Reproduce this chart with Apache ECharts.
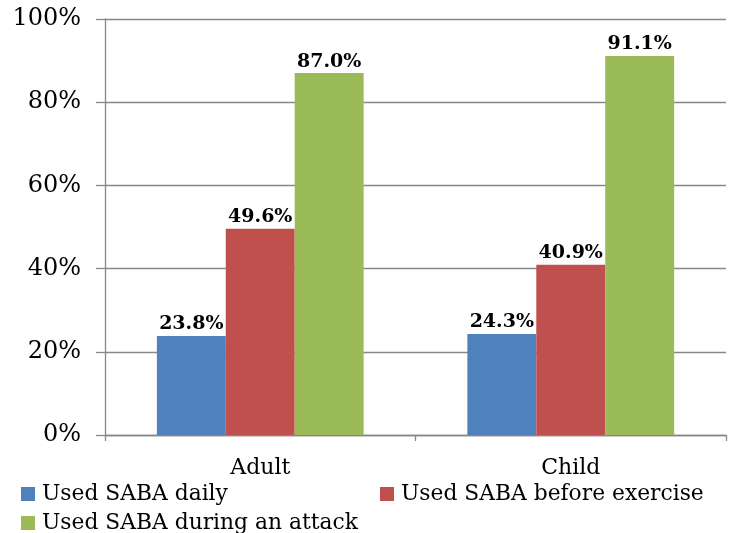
<!DOCTYPE html>
<html><head><meta charset="utf-8">
<script src="https://cdn.jsdelivr.net/npm/echarts@6/dist/echarts.min.js"></script>
<style>html,body{margin:0;padding:0;background:#fff}#c{width:732px;height:533px}</style>
</head><body><div id="c"></div>
<script>
const categories = ['Adult', 'Child'];
const seriesNames = ['Used SABA daily', 'Used SABA before exercise', 'Used SABA during an attack'];
const dailyValues = [23.8, 24.3];
const beforeExerciseValues = [49.6, 40.9];
const attackValues = [87.0, 91.1];
const yTicks = [0, 20, 40, 60, 80, 100];

const colors = ['#4F81BD', '#C0504D', '#9BBB59'];
const FONT = 'DejaVu Serif';
const allValues = [dailyValues, beforeExerciseValues, attackValues];

const chart = echarts.init(document.getElementById('c'), null, {renderer: 'canvas'});
const legendPos = [{left: 21, top: 483}, {left: 380, top: 483}, {left: 21, top: 512}];
chart.setOption({
  animation: false,
  grid: {left: 105, right: 6, top: 19, bottom: 98, containLabel: false},
  legend: seriesNames.map((n, i) => ({
    data: [n], left: legendPos[i].left, top: legendPos[i].top, icon: 'rect',
    itemWidth: 14, itemHeight: 14, itemGap: 0, padding: 0,
    textStyle: {fontFamily: FONT, fontSize: 21.8, color: '#000', padding: [0, 0, 0, 2]}
  })),
  xAxis: {
    type: 'category', data: categories,
    axisLine: {lineStyle: {color: '#888', width: 1.3}},
    axisTick: {show: true, length: 6, lineStyle: {color: '#888', width: 1.3}},
    axisLabel: {fontFamily: FONT, fontSize: 22, color: '#000', margin: 22}
  },
  yAxis: {
    type: 'value', min: yTicks[0], max: yTicks[yTicks.length - 1], interval: 20,
    axisLine: {show: true, lineStyle: {color: '#888', width: 1.3}},
    axisTick: {show: true, length: 9, lineStyle: {color: '#888', width: 1.3}},
    splitLine: {lineStyle: {color: '#888', width: 1.3}},
    axisLabel: {fontFamily: FONT, fontSize: 24, color: '#000', margin: 24, formatter: v => v + '%'}
  },
  series: seriesNames.map((n, i) => ({
    name: n, type: 'bar', data: allValues[i],
    barGap: '0%', barCategoryGap: '33.4%',
    itemStyle: {color: colors[i]},
    label: {show: true, position: 'top', distance: 2, fontFamily: FONT, fontWeight: 'bold',
      fontSize: 19, color: '#000', formatter: p => p.value.toFixed(1) + '%'}
  }))
});
</script></body></html>
